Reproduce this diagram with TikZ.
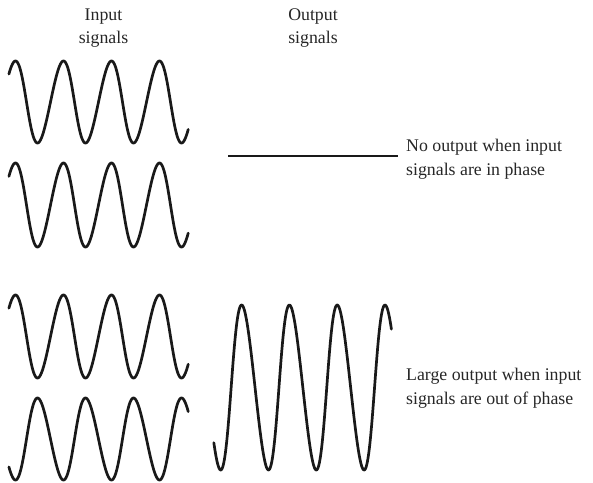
\documentclass[tikz,border=0pt]{standalone}
\usepackage{fontspec}
\setmainfont{Liberation Serif}
\begin{document}
\begin{tikzpicture}[x=1pt,y=-1pt,
  wave/.style={line width=2.7pt,black!90,line cap=round,line join=round},
  flatline/.style={line width=1.3pt,black!90},
  lbl/.style={inner sep=0pt,font=\fontsize{17.8}{24}\selectfont,text=black!85}]
\useasboundingbox (0,0) rectangle (593,482);
% headers
\node[lbl,anchor=base] (in1) at (103.5,20) {Input};
\node[lbl,anchor=base] (in2) at (103.5,43) {signals};
\node[lbl,anchor=base] (out1) at (313,20) {Output};
\node[lbl,anchor=base] (out2) at (313,43) {signals};
% in-phase input signals
\draw[wave] plot[domain=-47:1308,samples=300,variable=\t]
  ({15.5+(\t/360)*48-(1-cos(\t))},{102-41*cos(\t)});
\draw[wave] plot[domain=-47:1308,samples=300,variable=\t]
  ({15.5+(\t/360)*48-(1-cos(\t))},{205-42*cos(\t)});
% no output
\draw[flatline] (228,156) -- (398,156);
\node[lbl,anchor=base west] (no1) at (406,151) {No output when input};
\node[lbl,anchor=base west] (no2) at (406,175.5) {signals are in phase};
% out-of-phase input signals
\draw[wave] plot[domain=-47:1308,samples=300,variable=\t]
  ({15.5+(\t/360)*48-(1-cos(\t))},{336.5-41.5*cos(\t)});
\draw[wave] plot[domain=-47:1308,samples=300,variable=\t]
  ({15.5+(\t/360)*48-(1-cos(\t))},{439+41*cos(\t)});
% large output
\draw[wave] plot[domain=-48:1305,samples=300,variable=\t]
  ({220.7+(\t/360)*47.8-1.5*(1-cos(\t))},{387.5+82.5*cos(\t)});
\node[lbl,anchor=base west] (lg1) at (406,380) {Large output when input};
\node[lbl,anchor=base west] (lg2) at (406,404.5) {signals are out of phase};
\end{tikzpicture}
\end{document}
